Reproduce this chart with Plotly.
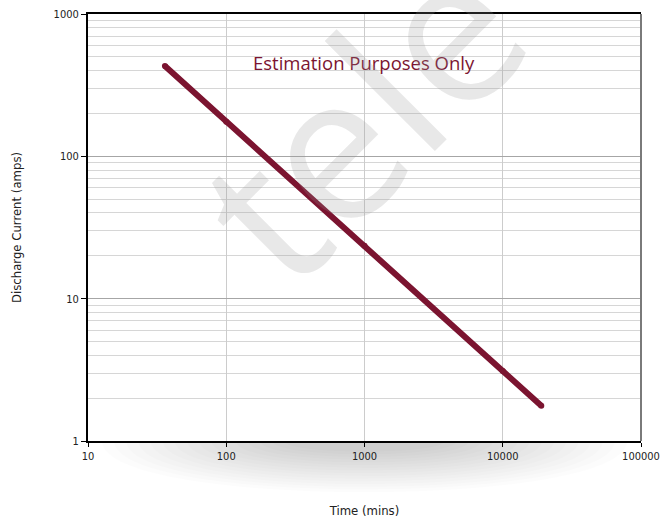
import plotly.graph_objects as go

# Data
time_mins = [36, 100, 1000, 10000, 19000]
current_amps = [431, 175, 23.5, 3.1, 1.77]

x_tickvals = [10, 100, 1000, 10000, 100000]
x_ticktext = ["10", "100", "1000", "10000", "100000"]
y_tickvals = [1, 10, 100, 1000]
y_ticktext = ["1", "10", "100", "1000"]
y_minor = [m * d for d in (1, 10, 100) for m in range(2, 10)]

LINE_COLOR = "#7b1430"
NARROW = "Liberation Sans Narrow, DejaVu Sans Condensed, sans-serif"

fig = go.Figure()
fig.add_trace(go.Scatter(
    x=time_mins, y=current_amps, mode="lines+markers",
    line=dict(color=LINE_COLOR, width=6),
    marker=dict(color=LINE_COLOR, size=6),
    showlegend=False, hoverinfo="skip",
))

# soft shadow under the plot area
shapes = []
n = 16
for i in range(n):
    f = i / (n - 1)
    half_w = 0.475 - 0.33 * f
    depth = 0.12 - 0.095 * f
    cx = 0.5
    x0, x1 = cx - half_w, cx + half_w
    c = -depth * 4 / 3
    shapes.append(dict(
        type="path", xref="paper", yref="paper", layer="below",
        path=f"M {x0},0 C {x0},{c} {x1},{c} {x1},0 Z",
        fillcolor="rgba(0,0,0,0.012)", line=dict(width=0),
    ))
# right border in gray
shapes.append(dict(type="line", xref="paper", yref="paper", x0=1, x1=1, y0=0, y1=1,
                   line=dict(color="#7a7a7a", width=2)))

fig.update_layout(
    width=662, height=519,
    margin=dict(l=88, r=21, t=14, b=78, autoexpand=False),
    paper_bgcolor="white", plot_bgcolor="white",
    shapes=shapes,
    font=dict(family=NARROW, size=11, color="#222"),
    xaxis=dict(
        type="log", range=[1, 5], automargin=False, ticklabeloverflow="allow",
        tickvals=x_tickvals, ticktext=x_ticktext,
        showgrid=True, gridcolor="#cccccc", gridwidth=1,
        showline=True, linecolor="black", linewidth=2, mirror=True,
        ticks="outside", ticklen=4, tickcolor="black",
        zeroline=False,
        title=dict(text="Time (mins)", font=dict(family=NARROW, size=13, color="#222"), standoff=44),
    ),
    yaxis=dict(
        type="log", range=[0, 3], automargin=False, ticklabeloverflow="allow",
        tickvals=y_tickvals, ticktext=y_ticktext,
        showgrid=True, gridcolor="#a6a6a6", gridwidth=1,
        minor=dict(tickvals=y_minor, showgrid=True, gridcolor="#d6d6d6", gridwidth=1, ticks=""),
        showline=True, linecolor="black", linewidth=2,
        ticks="outside", ticklen=5, tickcolor="black",
        zeroline=False,
        title=dict(text="Discharge Current (amps)", font=dict(family=NARROW, size=13, color="#222"), standoff=29),
    ),
    annotations=[
        dict(text="Estimation Purposes Only", xref="paper", yref="paper",
             x=0.4995, y=0.886, xanchor="center", yanchor="middle", showarrow=False,
             font=dict(family="Open Sans, sans-serif", size=18.5, color=LINE_COLOR)),
        dict(text="tele", xref="paper", yref="paper",
             x=0.49, y=0.765, xanchor="center", yanchor="middle", showarrow=False,
             textangle=-45,
             font=dict(family="Open Sans, sans-serif", size=205, color="rgba(150,150,150,0.22)")),
    ],
)

fig.write_html("out.html", config={"displayModeBar": False},
               post_script="document.body.style.margin='0px';document.body.style.overflow='hidden';")
